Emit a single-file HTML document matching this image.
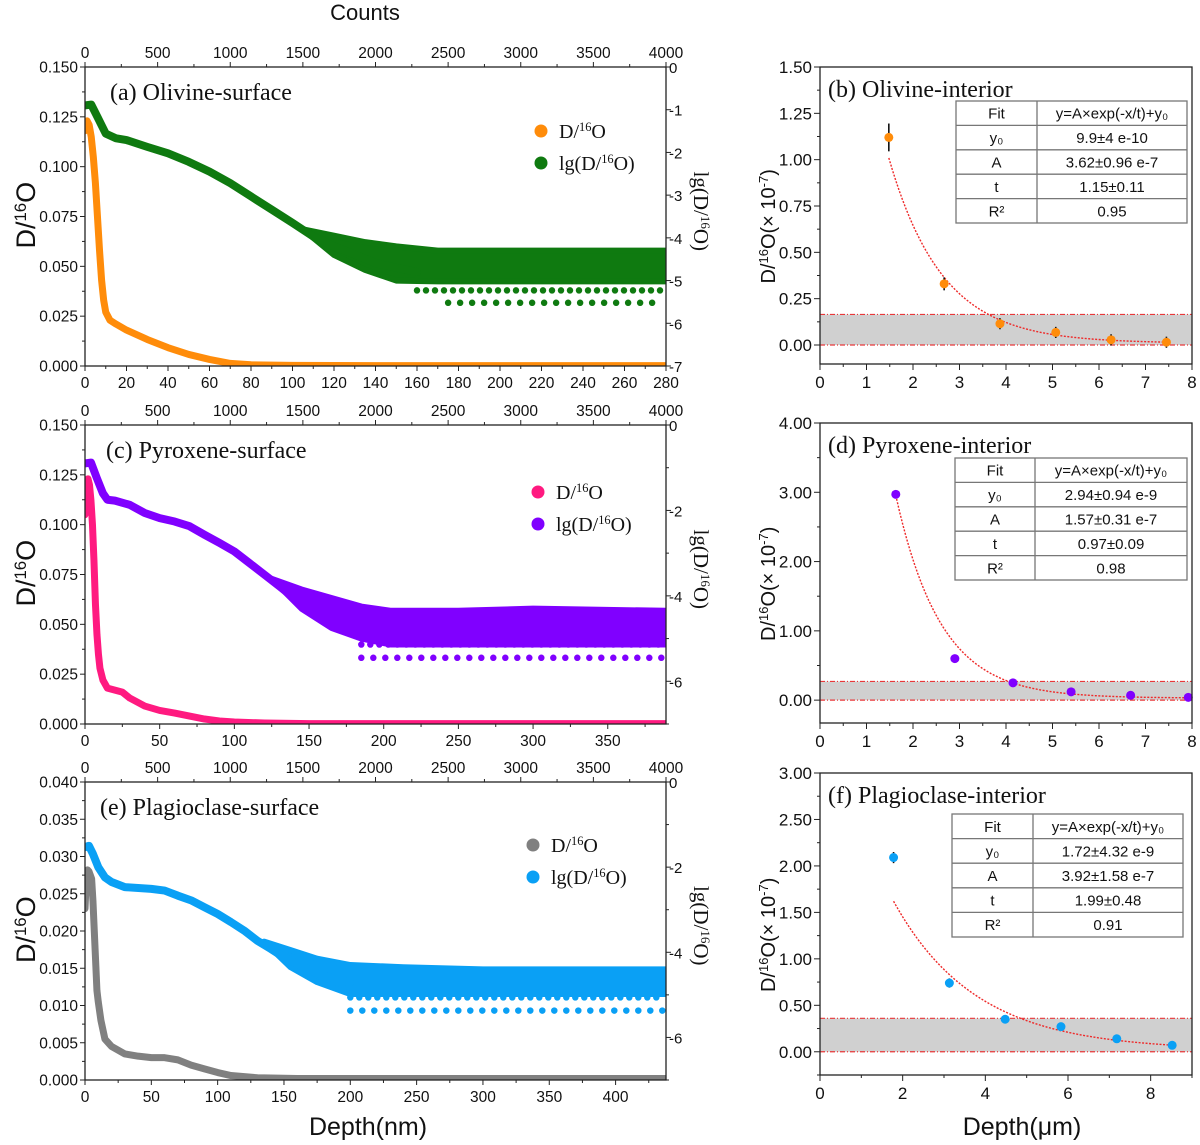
<!DOCTYPE html>
<html><head><meta charset="utf-8"><title>D/16O depth profiles</title>
<style>
html,body{margin:0;padding:0;background:#fff;}
svg{display:block;font-family:"Liberation Sans",Arial,sans-serif;}
.serif{font-family:"Liberation Serif","Times New Roman",serif;}
</style></head>
<body>
<svg id="fig" xmlns="http://www.w3.org/2000/svg" width="1200" height="1145" viewBox="0 0 1200 1145"></svg>
<script>
// ---------- Panel (a) Olivine-surface ----------
const aDDepth = [0,1,2,3,4,5,6,7,8,9,10,12,15,20,30,40,50,60,70,80,100,140,200,280];
const aDVal   = [0.118,0.123,0.121,0.115,0.105,0.092,0.075,0.058,0.043,0.033,0.027,0.023,0.021,0.018,0.0133,0.0092,0.0058,0.0033,0.0013,0.0006,0.0003,0.0002,0.0002,0.0002];
const aLgDepth = [0,3,6,10,15,20,30,40,50,60,70,80,90,100,110,120,130,140,150,160];
const aLgVal   = [-0.9,-0.88,-1.17,-1.56,-1.67,-1.71,-1.87,-2.02,-2.22,-2.45,-2.72,-3.03,-3.34,-3.65,-3.97,-4.2,-4.39,-4.59,-4.7,-4.8];
const aNoiseDepth = [105,120,135,150,170,200,240,280];
const aNoiseUp    = [-3.8,-3.95,-4.1,-4.2,-4.3,-4.3,-4.3,-4.3];
const aNoiseLo    = [-3.8,-4.4,-4.75,-5.0,-5.02,-5.02,-5.02,-5.02];
const aLevels = [-5.23,-5.52];
const aLevelStart = [160,175];

// ---------- Panel (c) Pyroxene-surface ----------
const cDDepth = [0,1,2,3,4,5,6,7,8,9,10,12,15,20,25,30,40,50,60,70,80,90,100,120,150,250,389];
const cDVal   = [0.105,0.118,0.123,0.12,0.112,0.1,0.082,0.06,0.045,0.035,0.028,0.022,0.018,0.017,0.016,0.013,0.009,0.0068,0.0055,0.004,0.0025,0.0015,0.001,0.0005,0.0002,0.0002,0.0002];
const cLgDepth = [0,4,8,12,15,20,30,40,50,60,70,80,90,100,110,120,130,140,150,160,170,180,190,200];
const cLgVal   = [-0.9,-0.88,-1.25,-1.6,-1.75,-1.77,-1.87,-2.06,-2.18,-2.26,-2.37,-2.57,-2.76,-2.96,-3.23,-3.5,-3.77,-4.05,-4.2,-4.36,-4.47,-4.59,-4.67,-4.75];
const cNoiseDepth = [125,145,165,185,205,250,300,389];
const cNoiseUp    = [-3.6,-3.85,-4.05,-4.25,-4.35,-4.35,-4.3,-4.35];
const cNoiseLo    = [-3.6,-4.3,-4.75,-5.0,-5.14,-5.14,-5.14,-5.14];
const cLevels = [-5.14,-5.45];
const cLevelStart = [185,185];

// ---------- Panel (e) Plagioclase-surface ----------
const eDDepth = [0,1,2,3,5,6,7,8,9,10,12,15,20,30,40,50,60,70,80,90,100,110,130,160,250,438];
const eDVal   = [0.023,0.027,0.0282,0.028,0.027,0.024,0.02,0.016,0.012,0.0105,0.008,0.0055,0.0045,0.0035,0.0032,0.003,0.003,0.0027,0.002,0.0015,0.001,0.0006,0.0003,0.0002,0.0002,0.0002];
const eLgDepth = [0,3,6,10,15,20,30,50,60,70,80,90,100,110,120,130,140,150,160,170,180,190,200];
const eLgVal   = [-1.53,-1.5,-1.69,-2.0,-2.24,-2.35,-2.47,-2.51,-2.55,-2.67,-2.78,-2.94,-3.1,-3.29,-3.49,-3.73,-3.92,-4.12,-4.27,-4.43,-4.55,-4.63,-4.71];
const eNoiseDepth = [135,155,175,200,240,300,438];
const eNoiseUp    = [-3.75,-3.95,-4.15,-4.3,-4.35,-4.4,-4.4];
const eNoiseLo    = [-3.75,-4.35,-4.7,-4.98,-4.98,-4.98,-4.98];
const eLevels = [-5.06,-5.37];
const eLevelStart = [200,200];

// ---------- Panel (b) Olivine-interior ----------
const bDepth = [1.48,2.67,3.87,5.07,6.26,7.45];
const bVal   = [1.12,0.33,0.115,0.068,0.028,0.015];
const bErr   = [0.075,0.035,0.03,0.03,0.03,0.03];
const bFit   = [3.62,1.15,0.0099];
const bBand  = [0,0.165];
const bTable = [["Fit","y=A×exp(-x/t)+y₀"],["y₀","9.9±4 e-10"],["A","3.62±0.96 e-7"],["t","1.15±0.11"],["R²","0.95"]];

// ---------- Panel (d) Pyroxene-interior ----------
const dDepth = [1.63,2.9,4.15,5.4,6.68,7.92];
const dVal   = [2.97,0.6,0.25,0.12,0.07,0.04];
const dErr   = [0.04,0.04,0.04,0.04,0.04,0.04];
const dFit   = [15.7,0.97,0.0294];
const dBand  = [0,0.27];
const dTable = [["Fit","y=A×exp(-x/t)+y₀"],["y₀","2.94±0.94 e-9"],["A","1.57±0.31 e-7"],["t","0.97±0.09"],["R²","0.98"]];

// ---------- Panel (f) Plagioclase-interior ----------
const fDepth = [1.78,3.13,4.48,5.83,7.18,8.52];
const fVal   = [2.09,0.74,0.35,0.27,0.14,0.07];
const fErr   = [0.06,0.05,0.04,0.04,0.04,0.04];
const fFit   = [3.92,1.99,0.0172];
const fBand  = [0,0.36];
const fTable = [["Fit","y=A×exp(-x/t)+y₀"],["y₀","1.72±4.32 e-9"],["A","3.92±1.58 e-7"],["t","1.99±0.48"],["R²","0.91"]];

const NS = "http://www.w3.org/2000/svg";
const svg = document.getElementById('fig');
function el(tag, attrs, parent){
  const e = document.createElementNS(NS, tag);
  for (const k in attrs) e.setAttribute(k, attrs[k]);
  (parent || svg).appendChild(e);
  return e;
}
function txt(str, attrs, parent){
  const e = el('text', attrs, parent);
  e.textContent = str;
  return e;
}
function supLabel(parent, x, y, pre, sup, post, size, cls, extra){
  const t = el('text', Object.assign({x:x, y:y, 'font-size':size}, extra||{}), parent);
  if (cls) t.setAttribute('class', cls);
  const s1 = el('tspan', {}, t); s1.textContent = pre;
  const s2 = el('tspan', {'baseline-shift':'super','font-size':size*0.62}, t); s2.textContent = sup;
  const s3 = el('tspan', {}, t); s3.textContent = post;
  return t;
}

function surfacePanel(o){
  const g = el('g', {});
  
  
  const L = 85, R = 666, T = o.T, B = o.B;
  const X = d => L + d / o.xmax * (R - L);
  const YL = v => B - v / o.ymax * (B - T);
  const YR = v => T + (-v) / 7 * (B - T);
  const clip = 'clip-' + o.name;
  const cp = el('clipPath', {id: clip}, g);
  el('rect', {x:L, y:T, width:R-L, height:B-T}, cp);
  const data = el('g', {'clip-path':'url(#' + clip + ')'}, g);

  let pts = [];
  for (let i = 0; i < o.noiseDepth.length; i++) pts.push(X(o.noiseDepth[i]) + ',' + YR(o.noiseUp[i]));
  for (let i = o.noiseDepth.length - 1; i >= 0; i--) pts.push(X(o.noiseDepth[i]) + ',' + YR(o.noiseLo[i]));
  const band = el('polygon', {points: pts.join(' '), fill: o.c2, stroke: o.c2, 'stroke-width': 6, 'stroke-linejoin': 'round'}, data);
  
  
  for (let i = 0; i < o.levels.length; i++) {
    const lv = el('line', {x1: X(o.levelStart[i]), x2: R - 3, y1: YR(o.levels[i]), y2: YR(o.levels[i]), stroke: o.c2, 'stroke-width': 6.5, 'stroke-linecap': 'round', 'stroke-dasharray': '0 ' + (9 + i * 3)}, data);
    
    
  }
  const lgPts = o.lgDepth.map((d, i) => X(d) + ',' + YR(o.lgVal[i])).join(' ');
  const lgLine = el('polyline', {points: lgPts, fill: 'none', stroke: o.c2, 'stroke-width': 8, 'stroke-linecap': 'round', 'stroke-linejoin': 'round'}, data);
  
  
  const dPts = o.dDepth.map((d, i) => X(d) + ',' + YL(o.dVal[i])).join(' ');
  const dLine = el('polyline', {points: dPts, fill: 'none', stroke: o.c1, 'stroke-width': 7, 'stroke-linecap': 'round', 'stroke-linejoin': 'round'}, data);
  
  

  const fr = el('rect', {x:L, y:T, width:R-L, height:B-T, fill:'none', stroke:'#222', 'stroke-width':1.3}, g);
  
  

  const nY = Math.round(o.ymax / o.ystep);
  for (let i = 0; i <= nY * 2; i++) {
    const v = i * o.ystep / 2, y = YL(v), major = i % 2 === 0;
    el('line', {x1: L, x2: L - (major ? 5 : 3), y1: y, y2: y, stroke: '#222', 'stroke-width': 1}, g);
    if (major) {
      const t = txt(v.toFixed(3), {x: L - 7, y: y + 5.5, 'font-size': 15.5, 'text-anchor': 'end', fill: '#111'}, g);
      
      
    }
  }
  for (let v = 0; v >= -7; v--) {
    const y = YR(v), major = (o.rStep === 1) || (v % 2 === 0);
    el('line', {x1: R, x2: R + (major ? 5 : 3), y1: y, y2: y, stroke: '#222', 'stroke-width': 1}, g);
    if (major && (o.rStep === 1 || v > -7)) {
      const t = txt(String(v), {x: R + 3, y: y + 6, 'font-size': 15, fill: '#111'}, g);
      
      
    }
  }
  for (let d = 0; d <= o.xmax + 0.01; d += o.xstep / 2) {
    const x = X(d), major = Math.abs((d / o.xstep) - Math.round(d / o.xstep)) < 1e-6;
    el('line', {x1: x, x2: x, y1: B, y2: B + (major ? 5 : 3), stroke: '#222', 'stroke-width': 1}, g);
    if (major) {
      const t = txt(String(Math.round(d)), {x: x, y: B + 22, 'font-size': 15.5, 'text-anchor': 'middle', fill: '#111'}, g);
      
      
    }
  }
  for (let c = 0; c <= 4000; c += 250) {
    const x = L + c / 4000 * (R - L), major = c % 500 === 0;
    el('line', {x1: x, x2: x, y1: T, y2: T - (major ? 5 : 3), stroke: '#222', 'stroke-width': 1}, g);
    if (major) {
      const t = txt(String(c), {x: x, y: T - 9, 'font-size': 15.5, 'text-anchor': 'middle', fill: '#111'}, g);
      
      
    }
  }
  const ti = txt(o.title, {x: o.titleX, y: T + 33, 'font-size': 24, fill: '#111', class: 'serif'}, g);
  
  
  const lg = el('g', {}, g);
  
  
  const ly1 = T + o.legY, ly2 = ly1 + 32;
  const m1 = el('circle', {cx: o.legX, cy: ly1, r: 6.5, fill: o.c1}, lg);
  
  
  const l1 = supLabel(lg, o.legX + 18, ly1 + 7, 'D/', '16', 'O', 20, 'serif', {fill: '#111'});
  
  
  const m2 = el('circle', {cx: o.legX, cy: ly2, r: 6.5, fill: o.c2}, lg);
  
  
  const l2 = supLabel(lg, o.legX + 18, ly2 + 7, 'lg(D/', '16', 'O)', 20, 'serif', {fill: '#111'});
  
  
  const yl = supLabel(g, 0, 0, 'D/', '16', 'O', 27, null, {transform: 'translate(35,' + ((T + B) / 2 + 32) + ') rotate(-90)', fill: '#111'});
  
  
  const yr = supLabel(g, 0, 0, 'lg(D/', '16', 'O)', 21, 'serif', {transform: 'translate(694,' + ((T + B) / 2 - 45) + ') rotate(90)', fill: '#111'});
  
  
}

surfacePanel({name:'panel-a-olivine-surface', T:67, B:366, xmax:280, xstep:20, ymax:0.15, ystep:0.025, rStep:1,
  c1:'#ff8c0a', c2:'#0f7a10', title:'(a) Olivine-surface', titleX:110, legX:541, legY:64,
  dDepth:aDDepth, dVal:aDVal, lgDepth:aLgDepth, lgVal:aLgVal, noiseDepth:aNoiseDepth, noiseUp:aNoiseUp, noiseLo:aNoiseLo, levels:aLevels, levelStart:aLevelStart});
surfacePanel({name:'panel-c-pyroxene-surface', T:425, B:724, xmax:389, xstep:50, ymax:0.15, ystep:0.025, rStep:2,
  c1:'#ff1a80', c2:'#8000ff', title:'(c) Pyroxene-surface', titleX:106, legX:538, legY:67,
  dDepth:cDDepth, dVal:cDVal, lgDepth:cLgDepth, lgVal:cLgVal, noiseDepth:cNoiseDepth, noiseUp:cNoiseUp, noiseLo:cNoiseLo, levels:cLevels, levelStart:cLevelStart});
surfacePanel({name:'panel-e-plagioclase-surface', T:782, B:1080, xmax:438, xstep:50, ymax:0.04, ystep:0.005, rStep:2,
  c1:'#808080', c2:'#0aa0f5', title:'(e) Plagioclase-surface', titleX:100, legX:533, legY:63,
  dDepth:eDDepth, dVal:eDVal, lgDepth:eLgDepth, lgVal:eLgVal, noiseDepth:eNoiseDepth, noiseUp:eNoiseUp, noiseLo:eNoiseLo, levels:eLevels, levelStart:eLevelStart});

const counts = txt('Counts', {x: 365, y: 20, 'font-size': 22, 'text-anchor': 'middle', fill: '#111'});


const dnm = txt('Depth(nm)', {x: 368, y: 1135, 'font-size': 25, 'text-anchor': 'middle', fill: '#111'});


const dum = txt('Depth(μm)', {x: 1022, y: 1135, 'font-size': 25, 'text-anchor': 'middle', fill: '#111'});



function interiorPanel(o){
  const g = el('g', {});
  
  
  const L = 820, R = 1192, T = o.T, B = o.B;
  const X = v => L + v / o.xmax * (R - L);
  const Y = v => B - (v - o.ymin) / (o.ymax - o.ymin) * (B - T);
  const bd = el('rect', {x: L, y: Y(o.band[1]), width: R - L, height: Y(o.band[0]) - Y(o.band[1]), fill: '#d0d0d0'}, g);
  
  
  for (const v of o.band) {
    const ln = el('line', {x1: L, x2: R, y1: Y(v), y2: Y(v), stroke: '#e8383a', 'stroke-width': 1.2, 'stroke-dasharray': '5 2 1 2'}, g);
    
    
  }
  let fp = [];
  const x0 = o.depth[0], x1 = o.depth[o.depth.length - 1];
  for (let k = 0; k <= 80; k++) {
    const x = x0 + (x1 - x0) * k / 80;
    fp.push(X(x) + ',' + Y(o.fit[0] * Math.exp(-x / o.fit[1]) + o.fit[2]));
  }
  const fc = el('polyline', {points: fp.join(' '), fill: 'none', stroke: '#ee2a2a', 'stroke-width': 1.4, 'stroke-dasharray': '2 1.5'}, g);
  
  
  for (let i = 0; i < o.depth.length; i++) {
    const eb = el('line', {x1: X(o.depth[i]), x2: X(o.depth[i]), y1: Y(o.val[i] + o.err[i]), y2: Y(o.val[i] - o.err[i]), stroke: '#111', 'stroke-width': 1.6}, g);
    
    
    const pt = el('circle', {cx: X(o.depth[i]), cy: Y(o.val[i]), r: 4.5, fill: o.color}, g);
    
    
  }
  const fr = el('rect', {x: L, y: T, width: R - L, height: B - T, fill: 'none', stroke: '#222', 'stroke-width': 1.3}, g);
  
  
  const n = Math.round(o.ymax / o.ystep);
  for (let i = -1; i <= n * 2; i++) {
    const v = i * o.ystep / 2;
    if (v < o.ymin) continue;
    const y = Y(v), major = i % 2 === 0;
    el('line', {x1: L, x2: L - (major ? 6 : 3), y1: y, y2: y, stroke: '#222', 'stroke-width': 1}, g);
    if (major) {
      const t = txt(v.toFixed(2), {x: L - 8, y: y + 6, 'font-size': 17, 'text-anchor': 'end', fill: '#111'}, g);
      
      
    }
  }
  for (let v = 0; v <= o.xmax + 1e-6; v += o.xstep / 2) {
    const x = X(v), major = Math.abs(v / o.xstep - Math.round(v / o.xstep)) < 1e-6;
    el('line', {x1: x, x2: x, y1: B, y2: B + (major ? 6 : 3), stroke: '#222', 'stroke-width': 1}, g);
    if (major) {
      const t = txt(String(Math.round(v)), {x: x, y: B + 24, 'font-size': 17, 'text-anchor': 'middle', fill: '#111'}, g);
      
      
    }
  }
  const ti = txt(o.title, {x: 828, y: T + 30, 'font-size': 24, fill: '#111', class: 'serif'}, g);
  
  
  const yt = el('text', {transform: 'translate(775,' + ((T + B) / 2 + 68) + ') rotate(-90)', 'font-size': 20, fill: '#111'}, g);
  
  
  const a1 = el('tspan', {}, yt); a1.textContent = 'D/';
  const a2 = el('tspan', {'baseline-shift': 'super', 'font-size': 13}, yt); a2.textContent = '16';
  const a3 = el('tspan', {}, yt); a3.textContent = 'O(× 10';
  const a4 = el('tspan', {'baseline-shift': 'super', 'font-size': 13}, yt); a4.textContent = '-7';
  const a5 = el('tspan', {}, yt); a5.textContent = ')';
  const tb = el('g', {}, g);
  
  
  const tL = o.tab[0], tR = o.tab[1], tT = o.tab[2], tB = o.tab[3], tD = o.tab[4];
  const rh = (tB - tT) / 5;
  el('rect', {x: tL, y: tT, width: tR - tL, height: tB - tT, fill: '#fff', stroke: '#777', 'stroke-width': 1.3}, tb);
  el('line', {x1: tD, x2: tD, y1: tT, y2: tB, stroke: '#777', 'stroke-width': 1.3}, tb);
  for (let r = 1; r < 5; r++) el('line', {x1: tL, x2: tR, y1: tT + r * rh, y2: tT + r * rh, stroke: '#777', 'stroke-width': 1.3}, tb);
  for (let r = 0; r < 5; r++) {
    const c1 = txt(o.table[r][0], {x: (tL + tD) / 2, y: tT + r * rh + rh / 2 + 5.5, 'font-size': 15, 'text-anchor': 'middle', fill: '#111'}, tb);
    
    
    const c2 = txt(o.table[r][1], {x: (tD + tR) / 2, y: tT + r * rh + rh / 2 + 5.5, 'font-size': 15, 'text-anchor': 'middle', fill: '#111'}, tb);
    
    
  }
}

interiorPanel({name:'panel-b-olivine-interior', T:67, B:364, ymin:-0.1025, ymax:1.5, ystep:0.25, xmax:8, xstep:1,
  color:'#ff8c0a', title:'(b) Olivine-interior', depth:bDepth, val:bVal, err:bErr, fit:bFit, band:bBand, table:bTable,
  tab:[956,1187,101,223,1037]});
interiorPanel({name:'panel-d-pyroxene-interior', T:423, B:723, ymin:-0.33, ymax:4.0, ystep:1, xmax:8, xstep:1,
  color:'#8000ff', title:'(d) Pyroxene-interior', depth:dDepth, val:dVal, err:dErr, fit:dFit, band:dBand, table:dTable,
  tab:[955,1187,458,580,1035]});
interiorPanel({name:'panel-f-plagioclase-interior', T:773, B:1075, ymin:-0.25, ymax:3.0, ystep:0.5, xmax:9, xstep:2,
  color:'#0aa0f5', title:'(f) Plagioclase-interior', depth:fDepth, val:fVal, err:fErr, fit:fFit, band:fBand, table:fTable,
  tab:[952,1183,814,937,1033]});
</script>
</body></html>
